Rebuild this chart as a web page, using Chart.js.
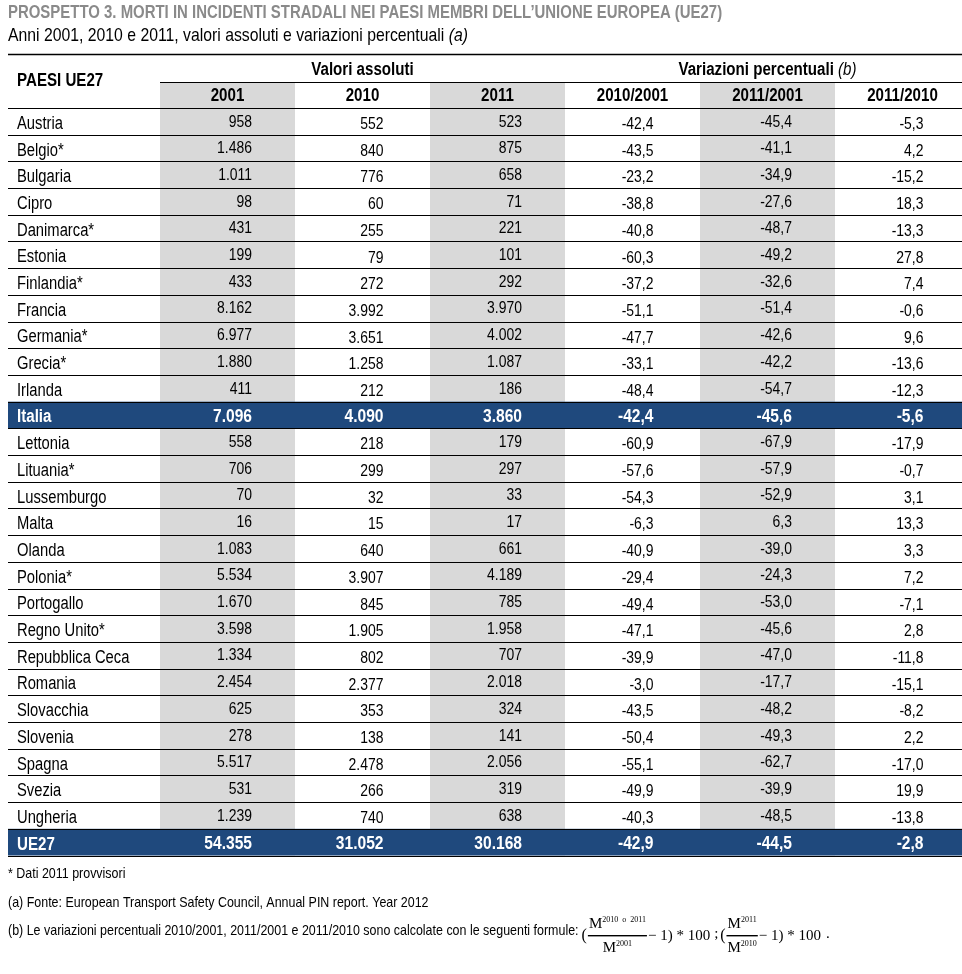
<!DOCTYPE html>
<html>
<head>
<meta charset="utf-8">
<script src="https://cdn.jsdelivr.net/npm/chart.js@4.4.1/dist/chart.umd.min.js"></script>
<style>
  html, body { margin: 0; background: #fff; overflow: hidden; }
  #clip { width: 962px; height: 974px; overflow: hidden; }
  #wrap { width: 970px; height: 974px; position: relative; }
</style>
</head>
<body>
<div id="clip"><div id="wrap"><canvas id="tableChart"></canvas></div></div>
<script>
const countries = ['Austria', 'Belgio*', 'Bulgaria', 'Cipro', 'Danimarca*', 'Estonia', 'Finlandia*',
  'Francia', 'Germania*', 'Grecia*', 'Irlanda', 'Italia', 'Lettonia', 'Lituania*', 'Lussemburgo',
  'Malta', 'Olanda', 'Polonia*', 'Portogallo', 'Regno Unito*', 'Repubblica Ceca', 'Romania',
  'Slovacchia', 'Slovenia', 'Spagna', 'Svezia', 'Ungheria', 'UE27'];
const columns = ['2001', '2010', '2011', '2010/2001', '2011/2001', '2011/2010'];
const deaths2001 = [958, 1486, 1011, 98, 431, 199, 433, 8162, 6977, 1880, 411, 7096, 558, 706, 70,
  16, 1083, 5534, 1670, 3598, 1334, 2454, 625, 278, 5517, 531, 1239, 54355];
const deaths2010 = [552, 840, 776, 60, 255, 79, 272, 3992, 3651, 1258, 212, 4090, 218, 299, 32,
  15, 640, 3907, 845, 1905, 802, 2377, 353, 138, 2478, 266, 740, 31052];
const deaths2011 = [523, 875, 658, 71, 221, 101, 292, 3970, 4002, 1087, 186, 3860, 179, 297, 33,
  17, 661, 4189, 785, 1958, 707, 2018, 324, 141, 2056, 319, 638, 30168];
const var2010on2001 = [-42.4, -43.5, -23.2, -38.8, -40.8, -60.3, -37.2, -51.1, -47.7, -33.1, -48.4,
  -42.4, -60.9, -57.6, -54.3, -6.3, -40.9, -29.4, -49.4, -47.1, -39.9, -3.0, -43.5, -50.4, -55.1,
  -49.9, -40.3, -42.9];
const var2011on2001 = [-45.4, -41.1, -34.9, -27.6, -48.7, -49.2, -32.6, -51.4, -42.6, -42.2, -54.7,
  -45.6, -67.9, -57.9, -52.9, 6.3, -39.0, -24.3, -53.0, -45.6, -47.0, -17.7, -48.2, -49.3, -62.7,
  -39.9, -48.5, -44.5];
const var2011on2010 = [-5.3, 4.2, -15.2, 18.3, -13.3, 27.8, 7.4, -0.6, 9.6, -13.6, -12.3, -5.6,
  -17.9, -0.7, 3.1, 13.3, 3.3, 7.2, -7.1, 2.8, -11.8, -15.1, -8.2, 2.2, -17.0, 19.9, -13.8, -2.8];
const highlighted = ['Italia', 'UE27'];
const shadedColumns = ['2001', '2011', '2011/2001'];

const title = 'PROSPETTO 3. MORTI IN INCIDENTI STRADALI NEI PAESI MEMBRI DELL\u2019UNIONE EUROPEA (UE27)';
const subtitle = 'Anni 2001, 2010 e 2011, valori assoluti e variazioni percentuali ';
const groupHeaders = ['Valori assoluti', 'Variazioni percentuali '];
const notes = [
  '* Dati 2011 provvisori',
  '(a) Fonte: European Transport Safety Council, Annual PIN report. Year 2012',
  '(b) Le variazioni percentuali 2010/2001, 2011/2001 e 2011/2010 sono calcolate con le seguenti formule:'
];

// no narrow font installed: squeeze Liberation Sans horizontally instead
const FONT = "'Liberation Sans', Arimo, Arial, sans-serif";
const SERIF = "'Liberation Serif', 'DejaVu Serif', serif";
const BLUE = '#1f497d';
const GRAY = '#d9d9d9';
const TABLE_LEFT = 8;
const SQUEEZE = 0.82;

function fmtInt(v) {
  return String(v).replace(/\B(?=(\d{3})+(?!\d))/g, '.');
}
function fmtPct(v) {
  return v.toFixed(1).replace('.', ',');
}
const cellText = [
  deaths2001.map(fmtInt), deaths2010.map(fmtInt), deaths2011.map(fmtInt),
  var2010on2001.map(fmtPct), var2011on2001.map(fmtPct), var2011on2010.map(fmtPct)
];

function isHighlighted(i) {
  return highlighted.includes(countries[i]);
}

// condensed text, returns drawn width
function text(ctx, str, x, y, font, opts) {
  opts = opts || {};
  const sx = opts.sx || SQUEEZE;
  ctx.save();
  ctx.font = font;
  ctx.fillStyle = opts.color || '#000';
  ctx.textAlign = opts.align || 'left';
  ctx.textBaseline = 'middle';
  ctx.translate(x, y);
  ctx.scale(sx, 1);
  ctx.fillText(str, 0, 0);
  const w = ctx.measureText(str).width * sx;
  ctx.restore();
  return w;
}
function textWidth(ctx, str, font, sx) {
  ctx.save();
  ctx.font = font;
  const w = ctx.measureText(str).width * (sx || SQUEEZE);
  ctx.restore();
  return w;
}

function hline(ctx, x1, x2, y, w) {
  ctx.beginPath();
  ctx.lineWidth = w || 1;
  ctx.moveTo(x1, Math.round(y) + 0.5);
  ctx.lineTo(x2, Math.round(y) + 0.5);
  ctx.stroke();
}

// draws (M^a / M^b - 1) * 100
function drawFormula(ctx, x, y, supTop, supBottom) {
  ctx.textBaseline = 'alphabetic';
  ctx.textAlign = 'left';
  ctx.fillStyle = '#000';
  ctx.font = '16px ' + SERIF;
  ctx.fillText('(', x, y + 5);
  x += ctx.measureText('(').width + 1;
  ctx.font = '15px ' + SERIF;
  const mW = ctx.measureText('M').width;
  ctx.font = '8px ' + SERIF;
  const topW = mW + ctx.measureText(supTop).width;
  const botW = mW + ctx.measureText(supBottom).width;
  const fracW = Math.max(topW, botW) + 2;
  let nx = x + (fracW - topW) / 2;
  ctx.font = '15px ' + SERIF;
  ctx.fillText('M', nx, y - 7);
  ctx.font = '8px ' + SERIF;
  ctx.fillText(supTop, nx + mW, y - 13);
  ctx.fillRect(x, y, fracW, 1.4);
  nx = x + (fracW - botW) / 2;
  ctx.font = '15px ' + SERIF;
  ctx.fillText('M', nx, y + 17);
  ctx.font = '8px ' + SERIF;
  ctx.fillText(supBottom, nx + mW, y + 11);
  x += fracW + 1;
  ctx.font = '15px ' + SERIF;
  const tail = '\u2212 1) * 100';
  ctx.fillText(tail, x, y + 5);
  return x + ctx.measureText(tail).width;
}

const tablePlugin = {
  id: 'tableCells',
  beforeDraw(chart) {
    const { ctx, chartArea } = chart;
    const x = chart.scales.x;
    const y = chart.scales.y;
    const colW = x.getPixelForValue(1) - x.getPixelForValue(0);
    const rowH = y.getPixelForValue(1) - y.getPixelForValue(0);
    const headTop = chartArea.top - x.height;
    ctx.save();
    ctx.fillStyle = GRAY;
    shadedColumns.forEach(c => {
      const cx = x.getPixelForValue(columns.indexOf(c));
      ctx.fillRect(cx - colW / 2, headTop, colW, chartArea.bottom - headTop);
    });
    ctx.fillStyle = BLUE;
    highlighted.forEach(name => {
      const cy = y.getPixelForValue(countries.indexOf(name));
      ctx.fillRect(TABLE_LEFT, cy - rowH / 2, chart.width - TABLE_LEFT, rowH);
    });
    ctx.restore();
  },
  afterDraw(chart) {
    const { ctx, chartArea } = chart;
    const x = chart.scales.x;
    const y = chart.scales.y;
    const rowH = y.getPixelForValue(1) - y.getPixelForValue(0);
    const headTop = chartArea.top - x.height;
    const W = chart.width;

    // title + subtitle
    text(ctx, title, TABLE_LEFT, 13, 'bold 18px ' + FONT, { color: '#8a8a8a', sx: 0.83 });
    const sw = text(ctx, subtitle, TABLE_LEFT, 36, '19px ' + FONT, { sx: 0.83 });
    text(ctx, '(a)', TABLE_LEFT + sw, 36, 'italic 19px ' + FONT, { sx: 0.83 });

    // header
    const HB = 'bold 18px ' + FONT;
    text(ctx, 'PAESI UE27', 17, 81, HB, { sx: 0.84 });
    const g1 = (x.getPixelForValue(0) + x.getPixelForValue(2)) / 2;
    text(ctx, groupHeaders[0], g1, 70, HB, { sx: 0.84, align: 'center' });
    const g2 = (x.getPixelForValue(3) + x.getPixelForValue(5)) / 2;
    const w2 = textWidth(ctx, groupHeaders[1], HB, 0.84);
    const w3 = textWidth(ctx, '(b)', 'italic 18px ' + FONT, 0.84);
    text(ctx, groupHeaders[1], g2 - (w2 + w3) / 2, 70, HB, { sx: 0.84 });
    text(ctx, '(b)', g2 - (w2 + w3) / 2 + w2, 70, 'italic 18px ' + FONT, { sx: 0.84 });

    // column labels from the x scale
    x.getLabels().forEach((lab, c) => {
      text(ctx, lab, x.getPixelForValue(c), headTop + 14, HB, { sx: 0.84, align: 'center' });
    });

    // row labels from the y scale
    y.getLabels().forEach((lab, r) => {
      const hl = isHighlighted(r);
      text(ctx, lab, 17, y.getPixelForValue(r) + 2.5, (hl ? 'bold ' : '') + '18px ' + FONT,
        { color: hl ? '#fff' : '#000', sx: hl ? 0.84 : SQUEEZE });
    });

    // cell values, right aligned in each column
    columns.forEach((col, c) => {
      const cx = x.getPixelForValue(c);
      const shaded = shadedColumns.includes(col);
      const right = cx + (shaded ? 24.5 : 21);
      cellText[c].forEach((txt, r) => {
        const cy = y.getPixelForValue(r);
        const hl = isHighlighted(r);
        text(ctx, txt, right, cy + (hl ? 2 : (shaded ? 0.5 : 3)), hl ? 'bold 19px ' + FONT : '17px ' + FONT,
          { color: hl ? '#fff' : '#000', align: 'right' });
      });
    });

    // rules
    ctx.save();
    ctx.strokeStyle = '#000';
    hline(ctx, TABLE_LEFT, W, 54, 1.5);
    hline(ctx, x.left, W, headTop);
    hline(ctx, TABLE_LEFT, W, chartArea.top);
    countries.forEach((_, r) => {
      hline(ctx, TABLE_LEFT, W, y.getPixelForValue(r) + rowH / 2);
    });
    ctx.restore();

    // notes
    const NF = '15px ' + FONT;
    text(ctx, notes[0], TABLE_LEFT, 874, NF, { sx: 0.83 });
    text(ctx, notes[1], TABLE_LEFT, 903, NF, { sx: 0.83 });
    const nw = text(ctx, notes[2], TABLE_LEFT, 931, NF, { sx: 0.83 });
    ctx.save();
    let fx = drawFormula(ctx, TABLE_LEFT + nw + 3, 935, '2010  o  2011', '2001');
    ctx.font = '15px ' + SERIF;
    ctx.fillText(';', fx + 4, 938);
    fx = drawFormula(ctx, fx + 10, 935, '2011', '2010');
    ctx.fillText('.', fx + 5, 938);
    ctx.restore();
  }
};

new Chart(document.getElementById('tableChart'), {
  type: 'bar',
  data: { labels: countries, datasets: [] },
  options: {
    responsive: true,
    maintainAspectRatio: false,
    animation: false,
    events: [],
    layout: { padding: { left: 17, right: 0, top: 82, bottom: 118.5 } },
    plugins: { legend: { display: false }, tooltip: { enabled: false } },
    scales: {
      x: {
        type: 'category',
        labels: columns,
        position: 'top',
        offset: true,
        grid: { display: false, drawTicks: false },
        border: { display: false },
        ticks: { display: false, autoSkip: false },
        afterFit: s => { s.height = 26; }
      },
      y: {
        type: 'category',
        labels: countries,
        offset: true,
        grid: { display: false, drawTicks: false },
        border: { display: false },
        ticks: { display: false, autoSkip: false },
        afterFit: s => { s.width = 143; }
      }
    }
  },
  plugins: [tablePlugin]
});
</script>
</body>
</html>
